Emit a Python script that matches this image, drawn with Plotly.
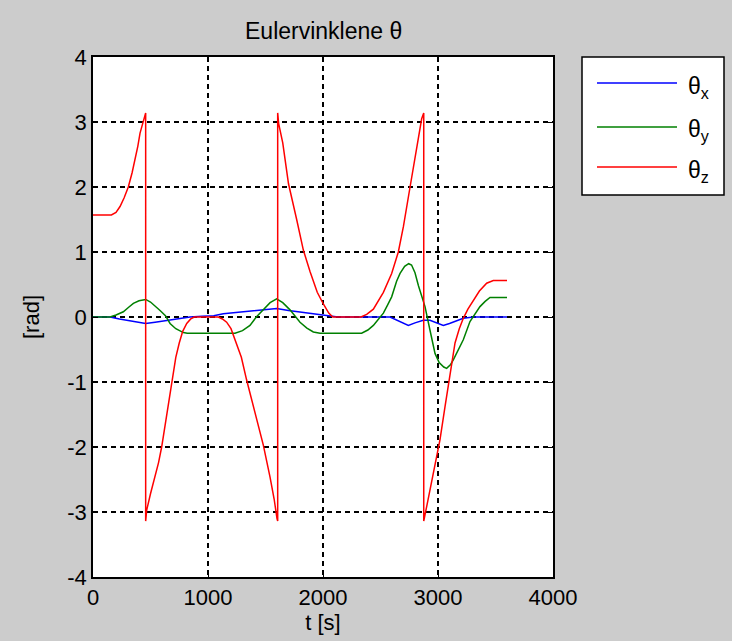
import plotly.graph_objects as go

# Euler angle time histories [rad] vs time [s]
t_x = [0, 148, 230, 322, 400, 458, 540, 670, 760, 843, 950, 1050, 1133, 1250, 1365,
       1480, 1597, 1700, 1829, 1950, 2061, 2130, 2583, 2650, 2742, 2800, 2872, 2930,
       2990, 3046, 3100, 3170, 3220, 3307, 3600]
theta_x = [0, 0, -0.03, -0.06, -0.08, -0.10, -0.08, -0.05, -0.03, 0.0, 0.01, 0.02, 0.05,
           0.07, 0.08, 0.11, 0.13, 0.10, 0.07, 0.04, 0.015, 0.0, 0.0, -0.05, -0.13, -0.09,
           -0.05, -0.05, -0.09, -0.13, -0.10, -0.05, -0.02, 0.0, 0.0]

t_y = [0, 148, 200, 264, 310, 351, 400, 458, 500, 540, 583, 630, 670, 720, 786, 820,
       1235, 1300, 1365, 1420, 1481, 1540, 1597, 1650, 1713, 1760, 1800, 1860, 1916,
       1974, 2336, 2390, 2438, 2480, 2525, 2560, 2597, 2640, 2670, 2710, 2745, 2770,
       2800, 2830, 2858, 2887, 2930, 2974, 3010, 3050, 3075, 3110, 3133, 3180, 3220,
       3278, 3320, 3365, 3410, 3452, 3600]
theta_y = [0, 0, 0.03, 0.08, 0.15, 0.21, 0.25, 0.27, 0.23, 0.16, 0.10, 0.02, -0.10,
           -0.18, -0.24, -0.25, -0.25, -0.21, -0.13, 0.0, 0.12, 0.22, 0.28, 0.22, 0.11,
           0.01, -0.08, -0.17, -0.23, -0.25, -0.25, -0.20, -0.13, -0.04, 0.06, 0.18,
           0.31, 0.55, 0.67, 0.78, 0.82, 0.80, 0.68, 0.48, 0.31, 0.16, -0.20, -0.56,
           -0.70, -0.77, -0.79, -0.73, -0.66, -0.50, -0.35, -0.07, 0.05, 0.16, 0.24,
           0.30, 0.30]

t_z = [0, 160, 200, 235, 270, 307, 340, 365, 390, 409, 430, 446, 458, 458, 467, 500,
       539, 570, 597, 630, 660, 690, 720, 750, 780, 815, 850, 880, 1090, 1125, 1162,
       1200, 1235, 1290, 1336, 1409, 1481, 1539, 1575, 1600, 1606, 1606, 1614, 1650,
       1700, 1771, 1829, 1887, 1950, 2003, 2050, 2085, 2330, 2380, 2438, 2525, 2597,
       2655, 2699, 2757, 2800, 2838, 2858, 2876, 2876, 2901, 2959, 3017, 3061, 3104,
       3148, 3185, 3220, 3260, 3307, 3360, 3423, 3481, 3600]
theta_z = [1.57, 1.57, 1.61, 1.70, 1.83, 2.00, 2.22, 2.42, 2.63, 2.83, 2.98, 3.08, 3.14,
           -3.14, -2.97, -2.72, -2.46, -2.24, -2.00, -1.62, -1.25, -0.92, -0.62, -0.40,
           -0.22, -0.10, -0.03, 0.0, 0.0, -0.03, -0.08, -0.18, -0.35, -0.62, -0.97,
           -1.48, -1.97, -2.46, -2.80, -3.10, -3.14, 3.14, 2.98, 2.68, 2.05, 1.50, 1.03,
           0.70, 0.38, 0.20, 0.06, 0.0, 0.0, 0.04, 0.12, 0.38, 0.67, 1.00, 1.39, 2.00,
           2.47, 2.88, 3.05, 3.14, -3.14, -2.92, -2.40, -1.89, -1.38, -0.87, -0.40,
           -0.18, -0.02, 0.12, 0.26, 0.40, 0.52, 0.56, 0.56]

x_ticks = [0, 1000, 2000, 3000, 4000]
y_ticks = [-4, -3, -2, -1, 0, 1, 2, 3, 4]

series = [
    ("x", t_x, theta_x, "#0000ff"),
    ("y", t_y, theta_y, "#008000"),
    ("z", t_z, theta_z, "#ff0000"),
]

FONT = "Liberation Sans, Arial, sans-serif"

fig = go.Figure()
for name, t, v, col in series:
    fig.add_trace(go.Scatter(x=t, y=v, mode="lines", name="θ" + name,
                             line=dict(color=col, width=1.5), showlegend=False))

# Legend box drawn to the right of the axes
W, H = 732, 641
L, R, T, B = 93, 179, 57, 64
pw, ph = W - L - R, H - T - B


def px(x):
    return (x - L) / pw


def py(y):
    return 1 - (y - T) / ph


shapes = [dict(type="rect", xref="paper", yref="paper",
               x0=px(582), x1=px(724), y0=py(195), y1=py(57),
               line=dict(color="black", width=1.5), fillcolor="white", layer="below")]
annotations = []
for (name, _, _, col), yy in zip(series, [83, 127, 167]):
    shapes.append(dict(type="line", xref="paper", yref="paper",
                       x0=px(597), x1=px(677), y0=py(yy), y1=py(yy),
                       line=dict(color=col, width=1.5)))
    annotations.append(dict(xref="paper", yref="paper", x=px(686), y=py(yy + 4),
                            xanchor="left", yanchor="middle", showarrow=False,
                            text="θ<sub>" + name + "</sub>",
                            font=dict(family=FONT, size=23, color="black")))

annotations.append(dict(xref="paper", yref="paper", x=px(323), y=py(31),
                        xanchor="center", yanchor="middle", showarrow=False,
                        text="Eulervinklene θ",
                        font=dict(family=FONT, size=23, color="black")))

axis_common = dict(showline=True, mirror="ticks", linecolor="black", linewidth=1.5,
                   showgrid=True, gridcolor="black", gridwidth=1.5, griddash="5px,4px",
                   ticks="inside", ticklen=5, tickcolor="black", zeroline=False,
                   tickfont=dict(family=FONT, size=22, color="black"))

fig.update_layout(
    width=W, height=H,
    margin=dict(l=L, r=R, t=T, b=B),
    paper_bgcolor="#cccccc", plot_bgcolor="white",
    shapes=shapes, annotations=annotations,
    xaxis=dict(range=[0, 4000], tickvals=x_ticks, ticktext=[str(v) for v in x_ticks],
               title=dict(text="t [s]", standoff=0,
                          font=dict(family=FONT, size=22, color="black")),
               **axis_common),
    yaxis=dict(range=[-4, 4], tickvals=y_ticks, ticktext=[str(v) for v in y_ticks],
               title=dict(text="[rad]", standoff=22,
                          font=dict(family=FONT, size=22, color="black")),
               **axis_common),
)

fig.write_html("out.html")
